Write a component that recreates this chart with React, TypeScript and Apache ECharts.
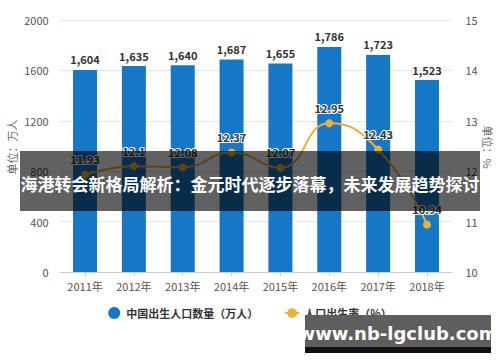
import React, { useEffect, useRef } from "react";
import * as echarts from "echarts";

const categories = ["2011年", "2012年", "2013年", "2014年", "2015年", "2016年", "2017年", "2018年"];
const births = [1604, 1635, 1640, 1687, 1655, 1786, 1723, 1523];
const birthRate = [11.93, 12.1, 12.08, 12.37, 12.07, 12.95, 12.43, 10.94];
const leftTicks = { min: 0, max: 2000, interval: 400 };
const rightTicks = { min: 10, max: 15, interval: 1 };
const barName = "中国出生人口数量（万人）";
const lineName = "人口出生率（%）";
const bannerText = "海港转会新格局解析：金元时代逐步落幕，未来发展趋势探讨";
const siteText = "www.nb-lgclub.com";

const FONT = "'Noto Sans CJK SC', 'Noto Sans', sans-serif";

export default function App() {
  const ref = useRef<HTMLDivElement>(null);
  useEffect(() => {
    if (!ref.current) return;
    const chart = echarts.init(ref.current, null, { renderer: "svg" });
    chart.setOption({
      animation: false,
      backgroundColor: "#ffffff",
      textStyle: { fontFamily: FONT },
      grid: { left: 60.6, right: 48.6, top: 20, bottom: 90 },
      legend: {
        bottom: 38,
        left: "center",
        itemWidth: 14,
        itemHeight: 12,
        itemGap: 26,
        textStyle: { fontSize: 11, color: "#333", fontWeight: "bold", fontFamily: FONT },
        data: [
          { name: barName, icon: "circle" },
          { name: lineName },
        ],
      },
      xAxis: {
        type: "category",
        data: categories,
        axisLine: { lineStyle: { color: "#cccccc" } },
        axisTick: { show: true, alignWithLabel: true, length: 4, lineStyle: { color: "#cccccc" } },
        axisLabel: { color: "#555", fontSize: 11, margin: 8 },
      },
      yAxis: [
        {
          type: "value",
          min: leftTicks.min,
          max: leftTicks.max,
          interval: leftTicks.interval,
          axisLine: { show: false },
          axisTick: { show: false },
          axisLabel: { color: "#555", fontSize: 11, margin: 12, formatter: (v: number) => String(v) },
          splitLine: { lineStyle: { color: "#e6e6e6" } },
        },
        {
          type: "value",
          min: rightTicks.min,
          max: rightTicks.max,
          interval: rightTicks.interval,
          axisLine: { show: false },
          axisTick: { show: false },
          axisLabel: { color: "#555", fontSize: 11, margin: 14, formatter: (v: number) => String(v) },
          splitLine: { show: false },
        },
      ],
      series: [
        {
          name: barName,
          type: "bar",
          data: births,
          barWidth: 24,
          itemStyle: { color: "#1677c6" },
          label: {
            show: true,
            position: "top",
            distance: 5,
            color: "#333",
            fontSize: 11,
            fontWeight: "bold",
            formatter: (p: any) => Number(p.value).toLocaleString("en-US"),
          },
        },
        {
          name: lineName,
          type: "line",
          yAxisIndex: 1,
          data: birthRate,
          smooth: true,
          symbol: "circle",
          symbolSize: 8,
          lineStyle: { color: "#efb135", width: 2 },
          itemStyle: { color: "#efb135" },
          label: {
            show: true,
            position: "top",
            distance: 6,
            color: "#333",
            fontSize: 11,
            fontWeight: "bold",
            textBorderColor: "#ffffff",
            textBorderWidth: 2,
          },
        },
      ],
      graphic: [
        {
          type: "text",
          x: 12,
          y: 147,
          rotation: Math.PI / 2,
          style: {
            text: "单位：万人",
            fill: "#666",
            fontSize: 11,
            fontFamily: FONT,
            align: "center",
            verticalAlign: "middle",
          },
        },
        {
          type: "text",
          x: 488,
          y: 147,
          rotation: -Math.PI / 2,
          style: {
            text: "单位：%",
            fill: "#666",
            fontSize: 11,
            fontFamily: FONT,
            align: "center",
            verticalAlign: "middle",
          },
        },
        {
          type: "rect",
          shape: { x: 20, y: 151, width: 460, height: 60 },
          style: { fill: "rgba(0,0,0,0.62)" },
          z: 100,
        },
        {
          type: "text",
          x: 250,
          y: 183,
          z: 101,
          style: {
            text: bannerText,
            fill: "#ffffff",
            fontSize: 17,
            fontWeight: "bold",
            fontFamily: FONT,
            align: "center",
            verticalAlign: "middle",
          },
        },
        {
          type: "rect",
          shape: { x: 305, y: 315, width: 186, height: 33 },
          style: { fill: "#5e5e5e" },
          z: 100,
        },
        {
          type: "rect",
          shape: { x: 305, y: 347, width: 186, height: 6 },
          style: { fill: "#111111" },
          z: 100,
        },
        {
          type: "text",
          x: 398,
          y: 333,
          z: 101,
          style: {
            text: siteText,
            fill: "#ffffff",
            fontSize: 18,
            fontWeight: "bold",
            fontFamily: "'DejaVu Sans', 'Noto Sans', sans-serif",
            align: "center",
            verticalAlign: "middle",
          },
        },
      ],
    });
    return () => chart.dispose();
  }, []);
  return <div ref={ref} style={{ width: 500, height: 362, position: "absolute", left: 0, top: 0 }} />;
}
